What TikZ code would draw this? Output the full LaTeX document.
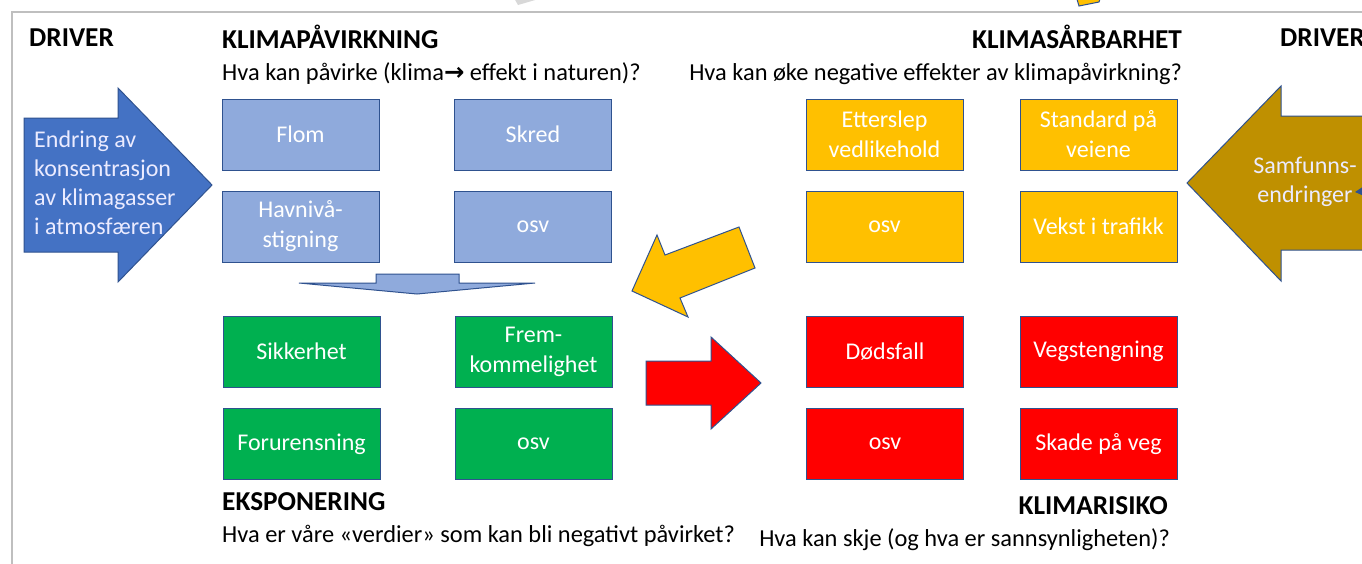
\documentclass[tikz,border=0pt]{standalone}
\usepackage{fontspec}
\setmainfont{Carlito}
\newfontfamily\symfont{DejaVu Sans}
\definecolor{boxline}{HTML}{2F528F}
\definecolor{lblue}{HTML}{8FAADC}
\definecolor{ablue}{HTML}{4472C4}
\definecolor{mygreen}{HTML}{00B050}
\definecolor{myyellow}{HTML}{FFC000}
\definecolor{myred}{HTML}{FF0000}
\definecolor{mygold}{HTML}{BF9000}
\definecolor{framegrey}{HTML}{BFBFBF}
\begin{document}
\begin{tikzpicture}[x=1pt,y=-1pt,
  box/.style={draw=boxline, line width=1pt, minimum width=157pt, minimum height=71pt,
    inner sep=2pt, text=white, align=center, font=\fontsize{24}{30}\selectfont},
  bluebox/.style={box, fill=lblue},
  greenbox/.style={box, fill=mygreen},
  yellowbox/.style={box, fill=myyellow},
  redbox/.style={box, fill=myred},
  head/.style={font=\fontsize{27.3}{30}\selectfont\bfseries, inner sep=0pt},
  sub/.style={font=\fontsize{24.4}{29}\selectfont, inner sep=0pt},
  blockarrow/.style={draw=boxline, line width=1pt, line join=miter},
  arrowtext/.style={inner sep=0pt, text=white!92!blue, font=\fontsize{24}{29}\selectfont}
]
\useasboundingbox (0,0) rectangle (1362,563);
\clip (0,0) rectangle (1362,563);
\fill[white] (0,0) rectangle (1362,563);

% partial shapes at top edge
\fill[framegrey!60] (514,-2) -- (542,-2) -- (518,5) -- cycle;
\draw[boxline, fill=myyellow, line width=1pt] (1076,-4) -- (1101,-4) -- (1099,2) -- (1079,6) -- cycle;

% frame
\draw[framegrey, line width=2pt] (12,570) -- (12,12) -- (1370,12);

% driver arrows
\draw[blockarrow, fill=ablue] (24,118) -- (118,118) -- (118,88) -- (212,185) -- (118,282) -- (118,252) -- (24,252) -- cycle;
\node[arrowtext, anchor=west, align=left] (drvtxt) at (34,183) {Endring av\\konsentrasjon\\av klimagasser\\i atmosfæren};

\draw[blockarrow, fill=mygold] (1187,183) -- (1281,86) -- (1281,116) -- (1400,116) -- (1400,250) -- (1281,250) -- (1281,281) -- cycle;
\fill[boxline] (1355,192) -- (1364,186) -- (1364,196) -- cycle;
\node[arrowtext, align=center] (samtxt) at (1305,182) {Samfunns-\\endringer};

% middle arrows
\draw[blockarrow, fill=lblue] (376,274) -- (459,274) -- (459,283) -- (535,283) -- (417,294) -- (299,283) -- (376,283) -- cycle;
\draw[blockarrow, fill=myyellow] (632,291) -- (657,235) -- (665,255) -- (739,227) -- (755,268) -- (680,298) -- (688,317) -- cycle;
\draw[blockarrow, fill=myred] (646,361) -- (711,361) -- (711,337) -- (761,383) -- (711,429) -- (711,405) -- (646,405) -- cycle;

% headings
\node[head, anchor=base west] (drvL) at (29,46) {DRIVER};
\node[head, anchor=base west] (drvR) at (1280,46) {DRIVER};
\node[head, anchor=base west] (hKP) at (222,48) {KLIMAPÅVIRKNING};
\node[sub, anchor=base west] (sKP) at (222,80) {Hva kan påvirke (klima{\symfont\bfseries →} effekt i naturen)?};
\node[head, anchor=base east] (hKS) at (1182,48) {KLIMASÅRBARHET};
\node[sub, anchor=base east] (sKS) at (1182,80) {Hva kan øke negative effekter av klimapåvirkning?};
\node[head, anchor=base west] (hEK) at (222,510) {EKSPONERING};
\node[sub, anchor=base west] (sEK) at (222,542) {Hva er våre «verdier» som kan bli negativt påvirket?};
\node[head, anchor=base east] (hKR) at (1168,514) {KLIMARISIKO};
\node[sub, anchor=base east] (sKR) at (1170,546) {Hva kan skje (og hva er sannsynligheten)?};

% climate impact boxes
\node[bluebox] (flom) at (300.5,134.5) {Flom};
\node[bluebox] (skred) at (533,134.5) {Skred};
\node[bluebox] (havniva) at (300.5,226.5) {Havnivå-\\stigning};
\node[bluebox] (osv1) at (533,226.5) {osv};

% exposure boxes
\node[greenbox] (sikk) at (301.5,351.5) {Sikkerhet};
\node[greenbox] (frem) at (533.5,351.5) {Frem-\\kommelighet};
\node[greenbox] (forur) at (301.5,444) {Forurensning};
\node[greenbox] (osv2) at (533.5,444) {osv};

% vulnerability boxes
\node[yellowbox] (etter) at (884.5,134.5) {Etterslep\\vedlikehold};
\node[yellowbox] (standard) at (1098.5,134.5) {Standard på\\veiene};
\node[yellowbox] (osv3) at (884.5,226.5) {osv};
\node[yellowbox] (vekst) at (1098.5,226.5) {Vekst i trafikk};

% risk boxes
\node[redbox] (dod) at (885,351.5) {Dødsfall};
\node[redbox] (veg) at (1098.5,351.5) {Vegstengning};
\node[redbox] (osv4) at (885,444) {osv};
\node[redbox] (skade) at (1098.5,444) {Skade på veg};
\end{tikzpicture}
\end{document}
